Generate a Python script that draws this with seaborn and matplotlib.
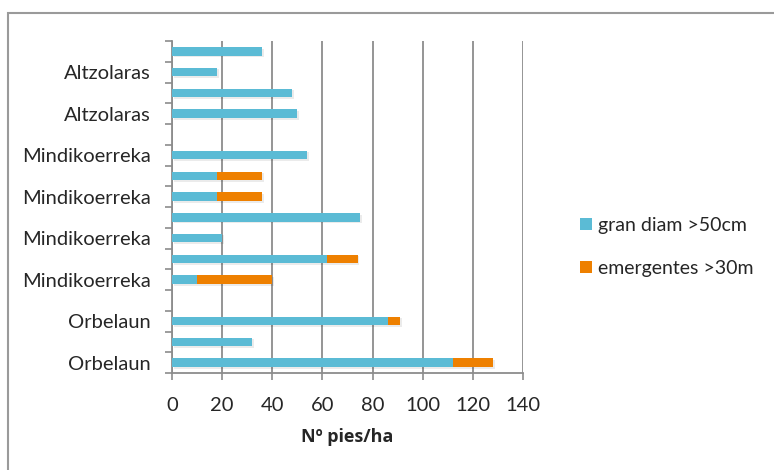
import matplotlib
matplotlib.use("Agg")
import matplotlib.pyplot as plt
import matplotlib.patheffects as pe
from matplotlib.patches import Rectangle, Patch
import pandas as pd
import seaborn as sns

# Stands, listed from top to bottom of the chart
sites = ["Altzolaras", "Altzolaras", "Altzolaras", "Altzolaras", "",
         "Mindikoerreka", "Mindikoerreka", "Mindikoerreka", "Mindikoerreka",
         "Mindikoerreka", "Mindikoerreka", "Mindikoerreka", "",
         "Orbelaun", "Orbelaun", "Orbelaun"]
gran_diam = [36, 18, 48, 50, 0, 54, 18, 18, 75, 20, 62, 10, 0, 86, 32, 112]
emergentes = [0, 0, 0, 0, 0, 0, 18, 18, 0, 0, 12, 30, 0, 5, 0, 16]
x_ticks = [0, 20, 40, 60, 80, 100, 120, 140]

BLUE = "#5BBBD5"
ORANGE = "#EE8000"
GRID = "#8C8C8C"

sns.set_theme(style="white")
plt.rcParams["font.family"] = ["Lato", "DejaVu Sans"]

df = pd.DataFrame({
    "row": [f"r{i}" for i in range(len(sites))],
    "sitio": sites,
    "gran": gran_diam,
    "emerg": emergentes,
})
df["total"] = df["gran"] + df["emerg"]

fig = plt.figure(figsize=(7.74, 4.70), dpi=100)
W, H = 774, 470
ax = fig.add_axes([172 / W, (H - 373) / H, (523 - 172) / W, (373 - 41) / H])

shadow = [pe.SimplePatchShadow(offset=(1.2, -1.2), shadow_rgbFace="#000000", alpha=0.08),
          pe.Normal()]

sns.barplot(data=df, x="total", y="row", orient="h", color=ORANGE,
            saturation=1, width=0.42, ax=ax, zorder=3)
sns.barplot(data=df, x="gran", y="row", orient="h", color=BLUE,
            saturation=1, width=0.42, ax=ax, zorder=4)
for i, bar in enumerate(ax.patches):
    bar.set_linewidth(0)
    if i < len(sites):
        bar.set_path_effects(shadow)

n = len(sites)
ax.set_xlim(0, 140)
ax.set_ylim(n - 0.5, -0.5)
ax.set_xticks(x_ticks)
ax.set_xticklabels([str(v) for v in x_ticks], fontsize=14.5)
ax.xaxis.grid(True, color=GRID, linewidth=1.3, zorder=0)
ax.set_axisbelow(True)

# category boundaries carry the tick marks, labels sit at every other centre
ax.set_yticks([i - 0.5 for i in range(n + 1)])
ax.set_yticklabels([])
ax.set_yticks(list(range(1, n, 2)), minor=True)
ax.set_yticklabels([sites[i] for i in range(1, n, 2)], minor=True, fontsize=14.5)
ax.tick_params(axis="y", which="major", left=True, length=5, width=1.2, color=GRID)
ax.tick_params(axis="y", which="minor", left=False, length=0, pad=15)
ax.tick_params(axis="x", bottom=True, length=5, width=1.2, color=GRID, pad=12)

for side in ["top", "right"]:
    ax.spines[side].set_visible(False)
for side in ["left", "bottom"]:
    ax.spines[side].set_color(GRID)
    ax.spines[side].set_linewidth(1.3)

ax.set_ylabel("")
ax.set_xlabel("Nº pies/ha", fontsize=13, fontweight="bold", labelpad=10,
              family=["Open Sans", "DejaVu Sans"])

handles = [Patch(facecolor=BLUE, edgecolor="none", label="gran diam >50cm"),
           Patch(facecolor=ORANGE, edgecolor="none", label="emergentes >30m")]
fig.legend(handles=handles, loc="center left", bbox_to_anchor=(580 / W, 1 - 247 / H),
           frameon=False, fontsize=14, handlelength=0.6, handleheight=0.6,
           handletextpad=0.3, labelspacing=1.35, borderpad=0, borderaxespad=0)

# chart frame
fig.add_artist(Rectangle((8 / W, -0.1), 1.2, (H - 13) / H + 0.1, transform=fig.transFigure,
                         fill=False, edgecolor="#9A9A9A", linewidth=1.5))

fig.savefig("out.png", dpi=100)
